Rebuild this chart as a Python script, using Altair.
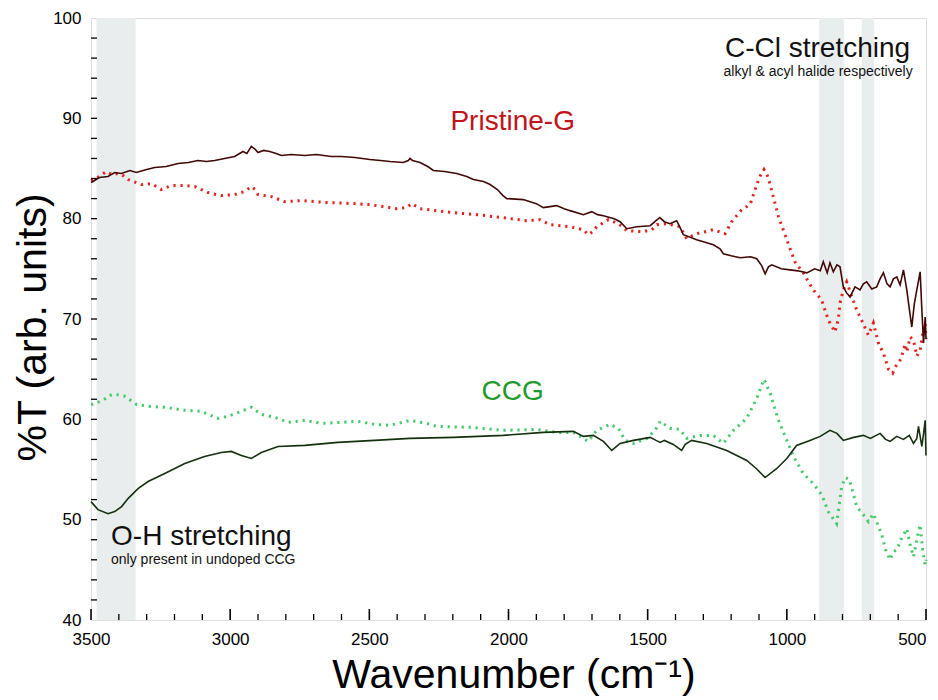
import altair as alt
import pandas as pd

# ---------------- data ----------------
pg_solid_wn = [3500, 3493, 3470, 3439, 3415, 3391, 3360, 3337, 3300, 3271, 3230, 3187, 3150, 3116, 3085,
               3056, 3020, 2984, 2954, 2940, 2924, 2910, 2900, 2880, 2858, 2835, 2816, 2780, 2732, 2690,
               2637, 2600, 2552, 2498, 2460, 2426, 2378, 2360, 2354, 2345, 2318, 2290, 2270, 2230, 2186,
               2150, 2126, 2090, 2066, 2040, 2020, 2006, 1947, 1900, 1875, 1827, 1800, 1779, 1731, 1701,
               1680, 1659, 1620, 1599, 1575, 1539, 1491, 1470, 1456, 1440, 1420, 1396, 1385, 1372, 1324,
               1264, 1240, 1228, 1200, 1168, 1130, 1108, 1090, 1078, 1066, 1054, 1020, 989, 960, 928,
               900, 880, 869, 855, 845, 833, 820, 809, 797, 785, 773, 755, 737, 725, 713,
               695, 677, 665, 653, 640, 629, 617, 605, 593, 581, 569, 560, 551, 542, 533,
               521, 515, 509, 503, 500]
pg_solid_t = [83.6, 83.7, 84.1, 84.2, 84.6, 84.5, 84.8, 84.6, 84.9, 85.1, 85.2, 85.5, 85.6, 85.8, 85.7,
              85.8, 86.0, 86.2, 86.7, 86.5, 87.2, 86.9, 86.6, 86.8, 86.7, 86.5, 86.3, 86.4, 86.3, 86.4,
              86.2, 86.2, 86.1, 85.9, 85.8, 85.7, 85.6, 85.8, 86.0, 85.8, 85.6, 85.2, 84.8, 84.7, 84.5,
              84.2, 83.9, 83.7, 83.4, 82.9, 82.3, 82.0, 81.9, 81.5, 81.1, 81.3, 81.0, 80.8, 80.4, 80.7,
              80.4, 80.3, 80.0, 79.7, 79.0, 79.2, 79.3, 79.8, 80.1, 79.7, 79.5, 79.8, 79.2, 78.4, 77.9,
              77.4, 77.0, 76.5, 76.3, 76.1, 76.2, 76.0, 75.3, 74.5, 75.2, 75.4, 75.0, 74.9, 74.8, 74.6,
              75.0, 74.8, 75.7, 74.6, 75.6, 74.7, 75.4, 75.2, 73.2, 72.6, 72.2, 73.2, 72.9, 73.5, 73.7,
              73.0, 73.2, 74.0, 74.6, 73.5, 73.2, 74.0, 74.2, 73.4, 74.9, 72.9, 71.0, 69.2, 71.5, 72.9,
              74.7, 71.0, 67.6, 70.2, 68.0]

pg_dot_wn = [3500, 3487, 3465, 3445, 3425, 3403, 3385, 3367, 3319, 3283, 3247, 3220, 3199, 3160, 3127,
             3080, 3032, 2984, 2948, 2924, 2910, 2900, 2852, 2804, 2744, 2648, 2552, 2498, 2402, 2366,
             2348, 2318, 2260, 2198, 2114, 2019, 1935, 1887, 1851, 1779, 1731, 1713, 1698, 1683, 1641,
             1605, 1575, 1515, 1485, 1467, 1431, 1384, 1360, 1340, 1324, 1264, 1222, 1198, 1162, 1132,
             1108, 1095, 1082, 1070, 1060, 1030, 1000, 971, 941, 905, 875, 851, 827, 815, 809,
             797, 785, 770, 749, 730, 707, 689, 670, 653, 635, 620, 605, 590, 575, 569,
             557, 545, 533, 521, 512, 503, 500]
pg_dot_t = [83.8, 83.9, 84.3, 84.7, 84.4, 84.5, 84.3, 83.9, 83.4, 83.5, 82.9, 83.2, 83.3, 83.3, 83.2,
            82.6, 82.3, 82.4, 82.7, 83.2, 82.9, 82.4, 82.2, 81.7, 81.8, 81.6, 81.5, 81.4, 81.0, 81.1,
            81.5, 81.0, 80.8, 80.6, 80.4, 80.1, 79.8, 79.9, 79.4, 79.2, 78.9, 78.4, 78.7, 79.2, 79.9,
            79.5, 78.8, 78.7, 78.9, 79.4, 79.5, 79.2, 78.0, 78.3, 78.5, 78.9, 78.5, 79.7, 80.9, 81.4,
            83.4, 84.3, 84.9, 84.3, 83.4, 80.2, 77.9, 75.7, 74.6, 72.9, 71.9, 69.9, 68.7, 70.0, 71.6,
            72.9, 73.7, 72.5, 70.9, 69.8, 68.4, 69.6, 67.5, 66.6, 65.0, 64.6, 65.5, 66.0, 67.5, 66.7,
            68.2, 67.9, 66.3, 66.9, 68.5, 69.6, 68.0]

ccg_dot_wn = [3500, 3493, 3457, 3430, 3415, 3379, 3337, 3295, 3235, 3163, 3104, 3044, 3008, 2960, 2924,
              2888, 2840, 2792, 2732, 2672, 2601, 2541, 2481, 2426, 2354, 2294, 2258, 2138, 2019, 1899,
              1827, 1767, 1743, 1713, 1683, 1635, 1605, 1581, 1551, 1503, 1473, 1455, 1420, 1384, 1360,
              1312, 1264, 1228, 1192, 1144, 1108, 1082, 1060, 1030, 1006, 976, 941, 905, 875, 851,
              821, 803, 790, 775, 749, 725, 707, 689, 659, 645, 629, 617, 605, 590, 569,
              557, 545, 533, 521, 512, 503, 500]
ccg_dot_t = [61.5, 61.5, 61.9, 62.4, 62.5, 62.3, 61.5, 61.3, 61.2, 60.9, 60.8, 60.1, 60.3, 60.8, 61.2,
             60.5, 60.2, 59.7, 59.9, 59.6, 59.7, 59.8, 59.5, 59.4, 59.9, 59.6, 59.3, 59.2, 58.9, 59.0,
             58.7, 58.7, 58.3, 57.8, 58.9, 59.5, 59.1, 57.9, 57.6, 58.1, 58.9, 59.8, 59.1, 59.0, 58.1,
             58.4, 58.4, 57.6, 58.9, 60.1, 62.1, 64.0, 62.6, 59.9, 58.3, 56.3, 54.6, 53.6, 52.5, 50.8,
             49.6, 53.3, 54.2, 54.0, 51.3, 50.5, 49.8, 50.6, 48.5, 47.0, 46.0, 46.8, 47.0, 48.0, 49.1,
             47.5, 46.3, 48.0, 49.5, 47.0, 45.5, 46.0]

ccg_solid_wn = [3500, 3475, 3439, 3415, 3390, 3367, 3331, 3295, 3235, 3163, 3092, 3032, 2996, 2960, 2924,
                2888, 2828, 2732, 2613, 2481, 2354, 2198, 2019, 1875, 1767, 1731, 1695, 1659, 1629, 1599,
                1551, 1491, 1470, 1455, 1440, 1408, 1378, 1365, 1342, 1288, 1216, 1144, 1110, 1078, 1036,
                1000, 965, 917, 880, 845, 820, 797, 760, 725, 700, 665, 645, 629, 605, 581,
                560, 545, 533, 527, 515, 509, 503, 500]
ccg_solid_t = [51.8, 51.0, 50.6, 50.8, 51.3, 52.1, 53.1, 53.8, 54.6, 55.6, 56.3, 56.7, 56.8, 56.4, 56.1,
               56.7, 57.3, 57.4, 57.7, 57.9, 58.1, 58.2, 58.4, 58.7, 58.8, 58.3, 58.4, 57.8, 56.9, 57.6,
               57.9, 58.2, 57.9, 57.7, 57.9, 57.5, 56.9, 57.5, 57.9, 57.6, 56.9, 55.9, 55.1, 54.2, 55.1,
               56.1, 57.4, 57.9, 58.3, 58.9, 58.6, 57.9, 58.2, 58.4, 58.1, 58.6, 58.0, 57.8, 58.3, 58.0,
               58.4, 57.6, 58.1, 59.3, 57.3, 58.5, 59.9, 56.4]

band_start = [3480, 884, 731]
band_end = [3340, 794, 686]

x_major = [3500, 3000, 2500, 2000, 1500, 1000, 500]
x_minor = [v for v in range(600, 3500, 100) if v % 500 != 0]
y_labels = [40, 50, 60, 70, 80, 90, 100]
y_minor = list(range(42, 100, 2))

FONT = "Liberation Sans"
W, H = 835, 602

x_scale = alt.Scale(domain=[500, 3500], reverse=True, nice=False, zero=False)
y_scale = alt.Scale(domain=[40, 100], nice=False, zero=False)

x_axis = alt.Axis(values=x_major, format="d", grid=False, ticks=False, tickSize=0, domain=False,
                  labelFlush=False, labelPadding=24, labelBaseline="alphabetic", labelFontSize=17,
                  labelAlign=alt.expr("datum.value == 500 ? 'right' : 'center'"),
                  labelFont=FONT, labelColor="black", title="Wavenumber (cm\u207b\u00b9)",
                  titleFont=FONT, titleFontSize=41, titleFontWeight="normal", titleColor="black",
                  titleBaseline="alphabetic", titleY=67, titleX=W / 2 + 5, titleAlign="center")
y_axis = alt.Axis(values=y_labels, format="d", grid=False, ticks=False, tickSize=0, domain=False,
                  labelFlush=False, labelPadding=10, labelFontSize=17, labelFont=FONT,
                  labelColor="black", title="%T (arb. units)", titleFont=FONT, titleFontSize=41,
                  titleFontWeight="normal", titleColor="black", titleAngle=270,
                  titleBaseline="alphabetic", titleX=-46, titleY=H / 2 + 8, titleAlign="center")


def series_df(wn, t):
    return pd.DataFrame({"wn": wn, "t": t})


bands = alt.Chart(pd.DataFrame({"s": band_start, "e": band_end})).mark_rect(
    color="#e9eded").encode(
    x=alt.X("s:Q", scale=x_scale, axis=x_axis),
    x2="e:Q",
    y=alt.value(0), y2=alt.value(H))

def solid(wn, t, color):
    return alt.Chart(series_df(wn, t)).mark_line(color=color, strokeWidth=1.6).encode(
        x=alt.X("wn:Q", scale=x_scale, axis=x_axis),
        y=alt.Y("t:Q", scale=y_scale, axis=y_axis))

def dotted(wn, t, color):
    return alt.Chart(series_df(wn, t)).mark_line(
        color=color, strokeWidth=3, strokeDash=[2.2, 4.8], strokeCap="butt").encode(
        x=alt.X("wn:Q", scale=x_scale, axis=x_axis),
        y=alt.Y("t:Q", scale=y_scale, axis=y_axis))

pg_dot_layer = dotted(pg_dot_wn, pg_dot_t, "#e2231d")
ccg_dot_layer = dotted(ccg_dot_wn, ccg_dot_t, "#45c96a")
pg_solid_layer = solid(pg_solid_wn, pg_solid_t, "#420806")
ccg_solid_layer = solid(ccg_solid_wn, ccg_solid_t, "#14300e")

x_major_ticks = alt.Chart(pd.DataFrame({"v": x_major})).mark_rule(
    color="black", strokeWidth=1.6).encode(
    x=alt.X("v:Q", scale=x_scale), y=alt.value(H), y2=alt.value(H - 11))
x_minor_ticks = alt.Chart(pd.DataFrame({"v": x_minor})).mark_rule(
    color="black", strokeWidth=1.3).encode(
    x=alt.X("v:Q", scale=x_scale), y=alt.value(H), y2=alt.value(H - 6))
y_minor_ticks = alt.Chart(pd.DataFrame({"v": y_minor})).mark_rule(
    color="black", strokeWidth=1.3).encode(
    y=alt.Y("v:Q", scale=y_scale), x=alt.value(0), x2=alt.value(6))


def label(wn, t, text, size, color, align):
    return alt.Chart(pd.DataFrame({"wn": [wn], "t": [t], "txt": [text]})).mark_text(
        font=FONT, fontSize=size, color=color, align=align, baseline="alphabetic").encode(
        x=alt.X("wn:Q", scale=x_scale), y=alt.Y("t:Q", scale=y_scale), text="txt:N")

texts = [
    label(557, 96.1, "C-Cl stretching", 28, "#111111", "right"),
    label(548, 94.2, "alkyl & acyl halide respectively", 14, "#111111", "right"),
    label(3428, 47.5, "O-H stretching", 28, "#111111", "left"),
    label(3428, 45.6, "only present in undoped CCG", 14, "#111111", "left"),
    label(1985, 88.85, "Pristine-G", 28, "#c0141a", "center"),
    label(1985, 61.9, "CCG", 28, "#1f9a2d", "center"),
]

chart = alt.layer(
    bands, pg_dot_layer, ccg_dot_layer, pg_solid_layer, ccg_solid_layer,
    x_major_ticks, x_minor_ticks, y_minor_ticks, *texts
).properties(
    width=W, height=H,
    padding={"left": 83, "top": 10, "right": 4, "bottom": 76},
    autosize=alt.AutoSizeParams(type="none"),
).configure_view(stroke="black", strokeWidth=2.2).configure(background="white")

chart.save("out.html", embed_options={"renderer": "svg", "actions": False})
